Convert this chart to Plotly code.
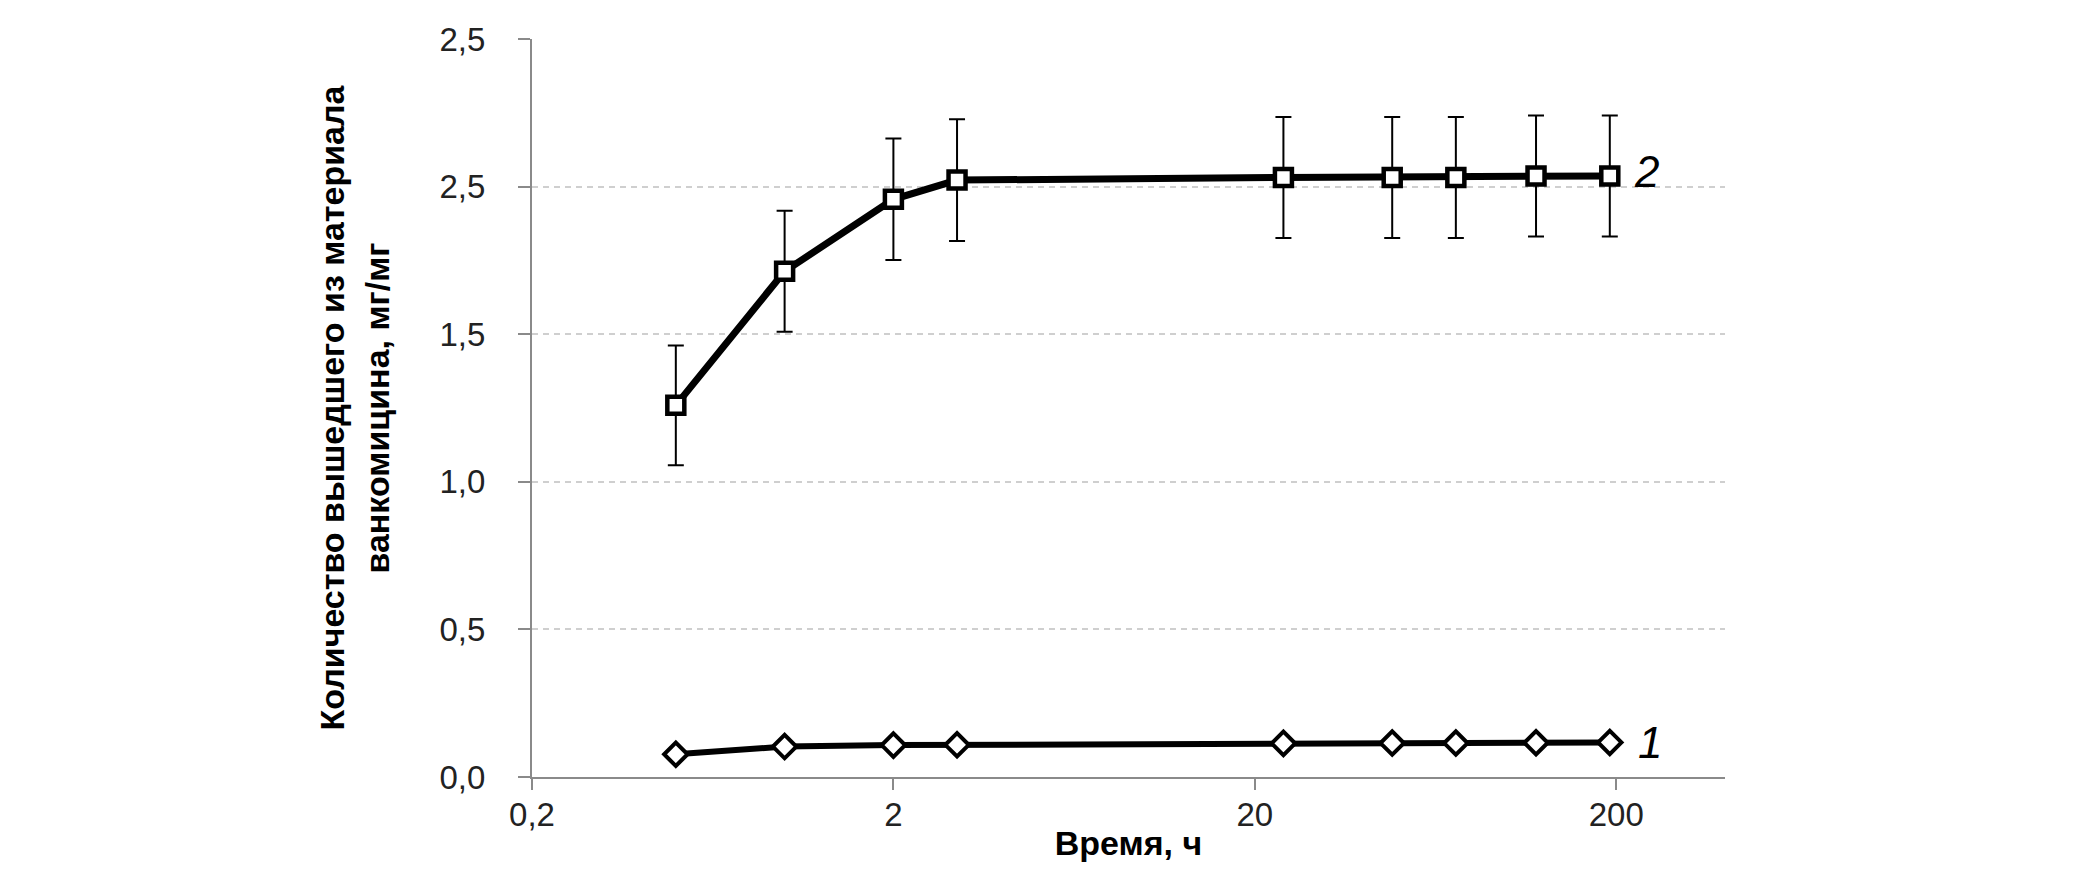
import math
import plotly.graph_objects as go

# Data
time_h = [0.5, 1, 2, 3, 24, 48, 72, 120, 192]
series1 = [0.077, 0.103, 0.108, 0.109, 0.114, 0.115, 0.115, 0.116, 0.117]
series2 = [1.259, 1.713, 1.957, 2.022, 2.031, 2.031, 2.031, 2.036, 2.036]
series2_err = [0.203, 0.205, 0.206, 0.206, 0.205, 0.205, 0.205, 0.205, 0.205]
series_labels = ["1", "2"]

x_tickvals = [0.2, 2, 20, 200]
x_ticktext = ["0,2", "2", "20", "200"]
y_tickvals = [0, 0.5, 1.0, 1.5, 2.0, 2.5]
y_ticktext = ["0,0", "0,5", "1,0", "1,5", "2,5", "2,5"]

FONT = "Liberation Sans, Arial, sans-serif"

fig = go.Figure()

fig.add_trace(go.Scatter(
    x=time_h, y=series1, mode="lines+markers",
    line=dict(color="black", width=6),
    marker=dict(symbol="diamond", size=18, color="white",
                line=dict(color="black", width=4)),
    showlegend=False,
))

fig.add_trace(go.Scatter(
    x=time_h, y=series2, mode="lines+markers",
    line=dict(color="black", width=7),
    marker=dict(symbol="square", size=17, color="white",
                line=dict(color="black", width=4.5)),
    error_y=dict(type="data", array=series2_err, visible=True,
                 color="black", thickness=2, width=8),
    showlegend=False,
))

fig.add_annotation(x=math.log10(time_h[-1]), y=series1[-1], xref="x", yref="y",
                   text=series_labels[0], showarrow=False, xanchor="left",
                   xshift=26, yshift=0,
                   font=dict(family=FONT, size=44, color="black", style="italic"))
fig.add_annotation(x=math.log10(time_h[-1]), y=series2[-1], xref="x", yref="y",
                   text=series_labels[1], showarrow=False, xanchor="left",
                   xshift=22, yshift=4,
                   font=dict(family=FONT, size=44, color="black", style="italic"))

# page body has an 8px default margin; compensate so the plot lands in place
fig.update_layout(
    template="none",
    width=2075, height=866,
    margin=dict(l=524, r=358, t=31, b=97, autoexpand=False),
    paper_bgcolor="white", plot_bgcolor="white",
    font=dict(family=FONT, color="#222"),
)

fig.update_xaxes(
    type="log", range=[math.log10(0.2), math.log10(400)],
    automargin=False,
    tickvals=x_tickvals, ticktext=x_ticktext,
    tickfont=dict(family=FONT, size=33, color="#222"),
    ticks="outside", ticklen=11, tickwidth=2, tickcolor="#8a8a8a",
    showline=True, linecolor="#8a8a8a", linewidth=2,
    showgrid=False, zeroline=False,
    ticklabelstandoff=-4,
    title=dict(text="<b>Время, ч</b>", font=dict(family=FONT, size=34, color="black"),
               standoff=0),
)

fig.update_yaxes(
    range=[0, 2.5],
    automargin=False,
    tickvals=y_tickvals, ticktext=y_ticktext,
    tickfont=dict(family=FONT, size=33, color="#222"),
    ticks="outside", ticklen=12, tickwidth=2, tickcolor="#8a8a8a",
    showline=True, linecolor="#8a8a8a", linewidth=2,
    showgrid=True, gridcolor="#cfcfcf", gridwidth=1.5, griddash="6px,5px",
    zeroline=False,
    ticklabelstandoff=26,
    title=dict(text="<b>Количество вышедшего из материала<br>ванкомицина, мг/мг</b>",
               font=dict(family=FONT, size=34, color="black"), standoff=40),
)

fig.write_html("out.html")
